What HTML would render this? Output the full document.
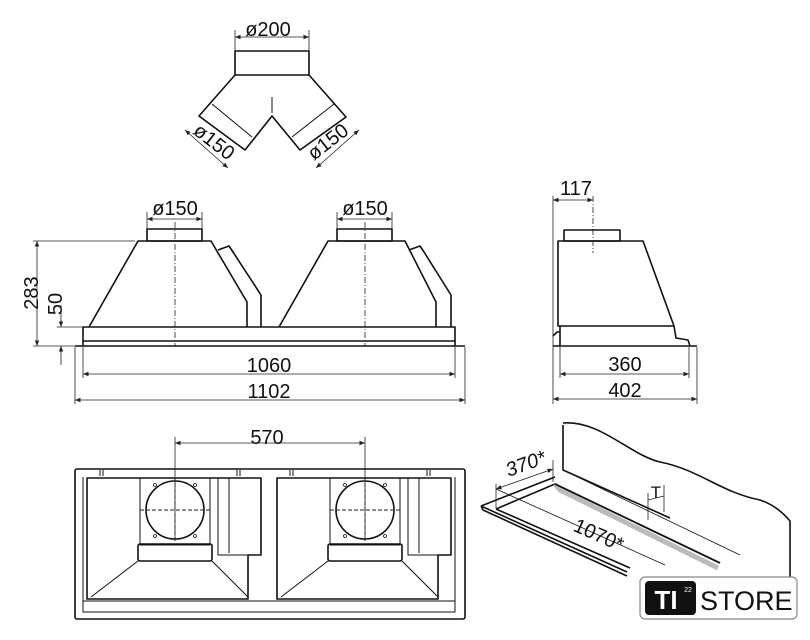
<!DOCTYPE html>
<html><head><meta charset="utf-8"><style>
html,body{margin:0;padding:0;background:#fff;}
svg{display:block;font-family:"Liberation Sans",sans-serif;}
</style></head><body>
<svg width="810" height="640" viewBox="0 0 810 640" xmlns="http://www.w3.org/2000/svg">
<defs>
<marker id="a" viewBox="0 0 10 10" refX="10" refY="5" markerWidth="7" markerHeight="7" orient="auto-start-reverse"><path d="M0,1 L10,5 L0,9 z" fill="#222"/></marker>
</defs>
<g fill="none" stroke="#111" stroke-width="1.6" stroke-linejoin="round">
<rect x="235" y="51" width="74" height="24"/>
<path d="M235,75 L199,116 L245,150 L272,116 L300,150 L346,117 L309,75"/>
<path d="M212,104 L252,137 M334,104 L292,137 M272,97 L272,113" stroke-width="1"/>
<rect x="147" y="229" width="55" height="12"/>
<path d="M89,327 L138,241 L211,241 L247,302 L247,327"/>
<path d="M218,250 L229,246 L233,252 L261,295 L261,327"/>
<path d="M279,327 L328,241 L405,241 L436,302 L436,327"/>
<path d="M409,250 L420,246 L424,252 L451,295 L451,327"/>
<rect x="337" y="229" width="55" height="12"/>
<rect x="83" y="327" width="372" height="14"/>
<path d="M75,346 L465,346 M83,341 L83,346 M455,341 L455,346"/>
<rect x="564" y="230" width="56" height="11"/>
<path d="M558,326 L558,241 L643,241 L674,326 Z"/>
<path d="M560,326 L560,346 M674,326 L676,338 L688,340 L690,346 M553,346 L697,346 M553,336 L557,332 L560,332"/>
<rect x="75" y="469" width="390" height="150" rx="2"/>
<path d="M83,477 L83,612 L455,612 L455,477 M83,601 L455,601" stroke-width="1"/>
<g id="u">
<path d="M87,478 L261,478 L261,555 L248,555 L248,599 L87,599 Z"/>
<rect x="140" y="478" width="70" height="67" stroke-width="1"/>
<circle cx="175" cy="510" r="29"/>
<rect x="138" y="544" width="74" height="17" rx="2"/>
<path d="M138,561 L91,597 M212,561 L248,597 M218,478 L218,555 L248,555 M229,478 L229,553" stroke-width="1"/>
<g fill="none" stroke-width="0.8"><circle cx="155" cy="485" r="1.5"/><circle cx="195" cy="485" r="1.5"/><circle cx="155" cy="536" r="1.5"/><circle cx="195" cy="536" r="1.5"/></g>
<path d="M100,470 L100,476 M103,470 L103,476 M237,470 L237,476 M240,470 L240,476" stroke-width="1"/>
</g>
<use href="#u" transform="translate(190,0)"/>
<path d="M563,423 C600,420 630,455 660,462 C700,470 720,492 760,500 C775,505 785,515 790,521 L790,600"/>
<path d="M563,425 L563,470 L670,518"/>
<path d="M481,506 L555,477 M481,506 L483,510 L627,576 M481,506 L627,572"/>
<path d="M496,509 L555,484 L720,563 M496,509 L630,568"/>
<path d="M555,484 L560,490 L718,568" stroke="#bbb" stroke-width="5"/>
<path d="M555,484 L720,563" stroke-width="1.6"/>
<path d="M563,470 L740,555 M496,489 L665,565" stroke-width="0.8"/>
</g>
<g stroke="#222" stroke-width="0.8" fill="none">
<path d="M235,37 L309,37" marker-start="url(#a)" marker-end="url(#a)"/>
<path d="M235,30 L235,51 M309,30 L309,51"/>
<path d="M185,130 L228,168" marker-start="url(#a)" marker-end="url(#a)"/>
<path d="M359,130 L316,168" marker-start="url(#a)" marker-end="url(#a)"/>
<path d="M147,219 L202,219" marker-start="url(#a)" marker-end="url(#a)"/>
<path d="M147,212 L147,229 M202,212 L202,229"/>
<path d="M337,219 L392,219" marker-start="url(#a)" marker-end="url(#a)"/>
<path d="M337,212 L337,229 M392,212 L392,229"/>
<path d="M175,222 L175,346 M365,222 L365,346 M593,196 L593,253" stroke-dasharray="6,2,1,2"/>
<path d="M37,241 L37,346" marker-start="url(#a)" marker-end="url(#a)"/>
<path d="M33,241 L135,241 M33,346 L75,346"/>
<path d="M61,327 L61,305 M61,346 L61,365"/>
<path d="M61,320 L61,327" marker-end="url(#a)"/>
<path d="M61,353 L61,346" marker-end="url(#a)"/>
<path d="M57,327 L83,327"/>
<path d="M83,374 L455,374" marker-start="url(#a)" marker-end="url(#a)"/>
<path d="M75,400 L465,400" marker-start="url(#a)" marker-end="url(#a)"/>
<path d="M83,347 L83,378 M455,347 L455,378 M75,347 L75,404 M465,347 L465,404"/>
<path d="M553,200 L593,200" marker-start="url(#a)" marker-end="url(#a)"/>
<path d="M553,196 L553,404 M560,347 L560,378 M689,347 L689,378 M697,347 L697,404"/>
<path d="M560,374 L689,374" marker-start="url(#a)" marker-end="url(#a)"/>
<path d="M553,399 L697,399" marker-start="url(#a)" marker-end="url(#a)"/>
<path d="M175,443 L365,443" marker-start="url(#a)" marker-end="url(#a)"/>
<path d="M175,437 L175,540 M365,437 L365,540"/>
<path d="M175,477 L175,543 M140,510 L210,510 M365,477 L365,543 M330,510 L400,510" stroke-dasharray="4,2" stroke-width="1"/>
<path d="M496,489 L553,469" marker-start="url(#a)" marker-end="url(#a)"/>
<path d="M496,484 L496,508 M553,460 L553,482"/>
<path d="M648,500 L664,496 M648,493 L648,520 M664,485 L664,512"/>
</g>
<g fill="#111" font-size="20" text-anchor="middle">
<text x="268" y="36">ø200</text>
<text transform="translate(210,147) rotate(38)">ø150</text>
<text transform="translate(332,147) rotate(-38)">ø150</text>
<text x="175" y="215">ø150</text>
<text x="365" y="215">ø150</text>
<text transform="translate(38,293) rotate(-90)">283</text>
<text transform="translate(62,304) rotate(-90)">50</text>
<text x="269" y="372">1060</text>
<text x="269" y="398">1102</text>
<text x="576" y="195">117</text>
<text x="625" y="371">360</text>
<text x="625" y="397">402</text>
<text x="267" y="444">570</text>
<text transform="translate(528,470) rotate(-20)" font-style="italic">370*</text>
<text transform="translate(596,541) rotate(24)">1070*</text>
<text x="656" y="498" font-size="17">T</text>
</g>
<rect x="640" y="577" width="157" height="42" rx="5" fill="#fff" stroke="#888" stroke-width="1.2"/>
<rect x="645" y="581" width="51" height="34" rx="4" fill="#111"/>
<text x="666" y="609" font-size="26" font-weight="bold" fill="#fff" text-anchor="middle">TI</text>
<text x="688" y="592" font-size="7" fill="#fff" text-anchor="middle">22</text>
<text x="700" y="610" font-size="27" fill="#111">STORE</text>
</svg>
</body></html>
